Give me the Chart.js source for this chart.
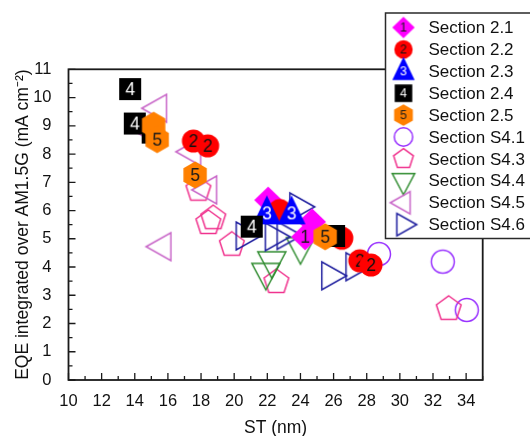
<!DOCTYPE html>
<html>
<head>
<meta charset="utf-8">
<script src="https://cdn.jsdelivr.net/npm/chart.js@4.4.1/dist/chart.umd.min.js"></script>
<style>
  html, body { margin: 0; padding: 0; background: #fff; }
  #wrap { width: 530px; height: 436px; position: relative; }
</style>
</head>
<body>
<div id="wrap"><canvas id="c" width="530" height="436"></canvas></div>
<script>
const FONT = "'Liberation Sans', Arial, Helvetica, sans-serif";

// Section 2.1
const sec21X = [22.05, 24.7, 24.28];
const sec21Y = [6.37, 5.6, 5.07];
const sec21Num = [0, 0, 1];
// Section 2.2
const sec22X = [17.54, 18.4, 22.75, 26.5, 27.58, 28.26];
const sec22Y = [8.46, 8.29, 6.0, 5.02, 4.22, 4.07];
const sec22Num = [1, 1, 0, 0, 1, 1];
// Section 2.3
const sec23X = [21.97, 23.46];
const sec23Y = [5.9, 5.9];
const sec23Num = [1, 1];
// Section 2.4
const sec24X = [13.72, 14.0, 15.08, 21.06, 26.03];
const sec24Y = [10.3, 9.08, 8.76, 5.43, 5.1];
const sec24Num = [1, 1, 0, 1, 0];
// Section 2.5
const sec25X = [15.14, 15.35, 17.64, 25.49];
const sec25Y = [9.02, 8.51, 7.26, 5.07];
const sec25Num = [0, 1, 1, 1];
// Section S4.1
const s41X = [28.74, 32.59, 34.04];
const s41Y = [4.46, 4.19, 2.48];
// Section S4.3
const s43X = [17.84, 18.74, 18.44, 19.86, 22.55, 32.95];
const s43Y = [6.74, 5.73, 5.56, 4.79, 3.47, 2.52];
// Section S4.4
const s44X = [21.91, 22.27, 24.0];
const s44Y = [3.81, 4.22, 4.72];
// Section S4.5
const s45X = [15.42, 14.62, 17.48, 18.44, 15.68];
const s45Y = [9.62, 8.92, 8.08, 6.73, 4.72];
// Section S4.6
const s46X = [20.62, 22.38, 23.09, 23.86, 25.79, 27.25];
const s46Y = [5.1, 5.07, 5.12, 6.13, 3.69, 4.01];

const seriesNames = ['Section 2.1', 'Section 2.2', 'Section 2.3', 'Section 2.4', 'Section 2.5',
  'Section S4.1', 'Section S4.3', 'Section S4.4', 'Section S4.5', 'Section S4.6'];

const xRange = [10, 35];
const yRange = [0, 11];
const xStep = 2;
const yStep = 1;

// marker look for each section (number drawn inside the filled ones)
const SERIES = [
  { x: sec21X, y: sec21Y, num: sec21Num, shape: 'diamond',  color: '#FF00FF', filled: true,  text: '1', textColor: '#1a1a1a', order: 5 },
  { x: sec22X, y: sec22Y, num: sec22Num, shape: 'circle',   color: '#FF0000', filled: true,  text: '2', textColor: '#111111', order: 4 },
  { x: sec23X, y: sec23Y, num: sec23Num, shape: 'triUp',    color: '#0000FF', filled: true,  text: '3', textColor: '#FFFFFF', order: 3 },
  { x: sec24X, y: sec24Y, num: sec24Num, shape: 'square',   color: '#000000', filled: true,  text: '4', textColor: '#FFFFFF', order: 2 },
  { x: sec25X, y: sec25Y, num: sec25Num, shape: 'hexagon',  color: '#FF8000', filled: true,  text: '5', textColor: '#1a1a1a', order: 1 },
  { x: s41X, y: s41Y, shape: 'circle',   color: '#9933FF', filled: false, order: 10 },
  { x: s43X, y: s43Y, shape: 'pentagon', color: '#F0338E', filled: false, order: 9 },
  { x: s44X, y: s44Y, shape: 'triDown',  color: '#2E8B2E', filled: false, order: 8 },
  { x: s45X, y: s45Y, shape: 'triLeft',  color: '#C866C8', filled: false, order: 7 },
  { x: s46X, y: s46Y, shape: 'triRight', color: '#1E1E9E', filled: false, order: 6 }
];

function polygon(ctx, n, R, s) {
  for (let i = 0; i < n; i++) {
    const a = -Math.PI / 2 + i * 2 * Math.PI / n;
    const px = Math.cos(a) * R * s, py = Math.sin(a) * R * s;
    if (i === 0) ctx.moveTo(px, py); else ctx.lineTo(px, py);
  }
}

function shapePath(ctx, shape, s) {
  ctx.beginPath();
  switch (shape) {
    case 'diamond':
      ctx.moveTo(0, -13.5 * s); ctx.lineTo(14 * s, 0); ctx.lineTo(0, 13.5 * s); ctx.lineTo(-14 * s, 0); break;
    case 'circle':
      ctx.arc(0, 0, 11.5 * s, 0, Math.PI * 2); break;
    case 'triUp':
      ctx.moveTo(0, -18 * s); ctx.lineTo(14 * s, 11 * s); ctx.lineTo(-14 * s, 11 * s); break;
    case 'square':
      ctx.rect(-11 * s, -11 * s, 22 * s, 22 * s); break;
    case 'hexagon':
      polygon(ctx, 6, 13.5, s); break;
    case 'pentagon':
      polygon(ctx, 5, 13, s); break;
    case 'triDown':
      ctx.moveTo(0, 17.5 * s); ctx.lineTo(14 * s, -9 * s); ctx.lineTo(-14 * s, -9 * s); break;
    case 'triLeft':
      ctx.moveTo(-16.5 * s, 0); ctx.lineTo(8.3 * s, -14 * s); ctx.lineTo(8.3 * s, 14 * s); break;
    case 'triRight':
      ctx.moveTo(16.5 * s, 0); ctx.lineTo(-8.3 * s, -14 * s); ctx.lineTo(-8.3 * s, 14 * s); break;
  }
  ctx.closePath();
}

function makeMarker(ser, s, withNum, fontPx) {
  const size = 40;
  const cv = document.createElement('canvas');
  cv.width = size; cv.height = size;
  const ctx = cv.getContext('2d');
  ctx.translate(size / 2, size / 2);
  shapePath(ctx, ser.shape, s);
  if (ser.filled) {
    ctx.fillStyle = ser.color; ctx.fill();
  } else {
    ctx.strokeStyle = ser.color; ctx.lineWidth = 1.5; ctx.lineJoin = 'miter'; ctx.stroke();
  }
  if (withNum && ser.text) {
    ctx.fillStyle = ser.textColor;
    ctx.font = fontPx + 'px ' + FONT;
    ctx.textAlign = 'center';
    ctx.textBaseline = 'middle';
    ctx.fillText(ser.text, 0, 1);
  }
  return cv;
}

const datasets = SERIES.map((ser, i) => {
  const plain = makeMarker(ser, 1, false, 17.5);
  const numbered = makeMarker(ser, 1, true, 17.5);
  return {
    label: seriesNames[i],
    data: ser.x.map((v, j) => ({ x: v, y: ser.y[j] })),
    pointStyle: ser.x.map((v, j) => (ser.num && ser.num[j]) ? numbered : plain),
    legendMark: makeMarker(ser, 0.8, true, 12.5),
    pointRadius: 12,
    pointHoverRadius: 12,
    showLine: false,
    order: ser.order
  };
});

// frame of the plot area with inward major and minor ticks
const frameTicks = {
  id: 'frameTicks',
  beforeDatasetsDraw(chart) {
    const { ctx, chartArea: a } = chart;
    const xs = chart.scales.x, ys = chart.scales.y;
    ctx.save();
    ctx.strokeStyle = '#1a1a1a';
    ctx.lineWidth = 1.3;
    ctx.beginPath();
    for (let v = xs.min; v <= xs.max + 1e-9; v += xStep / 2) {
      const px = xs.getPixelForValue(v);
      const major = Math.abs((v - xs.min) % xStep) < 1e-9;
      ctx.moveTo(px, a.bottom); ctx.lineTo(px, a.bottom - (major ? 7 : 4));
    }
    for (let v = ys.min; v <= ys.max + 1e-9; v += yStep / 2) {
      const py = ys.getPixelForValue(v);
      const major = Math.abs((v - ys.min) % yStep) < 1e-9;
      ctx.moveTo(a.left, py); ctx.lineTo(a.left + (major ? 7 : 4), py);
    }
    ctx.stroke();
    ctx.lineWidth = 1.8;
    ctx.strokeRect(a.left, a.top, a.right - a.left, a.bottom - a.top);
    ctx.restore();
  }
};

// boxed legend over the upper right corner
const boxLegend = {
  id: 'boxLegend',
  afterDraw(chart) {
    const { ctx } = chart;
    const bx = 385.5, by = 13, bw = 170, bh = 225.5;
    ctx.save();
    ctx.fillStyle = '#ffffff';
    ctx.fillRect(bx, by, bw, bh);
    ctx.strokeStyle = '#2a2a2a';
    ctx.lineWidth = 1.5;
    ctx.strokeRect(bx, by, bw, bh);
    ctx.font = '17px ' + FONT;
    ctx.textBaseline = 'middle';
    ctx.textAlign = 'left';
    ctx.fillStyle = '#111111';
    chart.data.datasets.forEach((ds, i) => {
      const cy = 27.5 + i * 21.9;
      const m = ds.legendMark;
      ctx.drawImage(m, 403.5 - m.width / 2, cy - m.height / 2);
      ctx.fillText(ds.label, 428.5, cy + 1);
    });
    ctx.restore();
  }
};

new Chart(document.getElementById('c'), {
  type: 'scatter',
  data: { datasets },
  options: {
    responsive: false,
    animation: false,
    events: [],
    layout: { padding: { left: 0, top: 69.3, right: 47.3, bottom: 0 } },
    plugins: { legend: { display: false }, tooltip: { enabled: false } },
    scales: {
      x: {
        type: 'linear', min: xRange[0], max: xRange[1],
        grid: { display: false }, border: { display: false },
        ticks: { stepSize: xStep, includeBounds: false, autoSkip: false, maxRotation: 0,
                 font: { family: FONT, size: 16.5 }, color: '#111111', padding: 4 },
        title: { display: true, text: 'ST (nm)', color: '#111111',
                 font: { family: FONT, size: 17.5 }, padding: { top: 0, bottom: -2.5 } },
        afterFit(scale) { scale.height = 56; }
      },
      y: {
        type: 'linear', min: yRange[0], max: yRange[1],
        grid: { display: false }, border: { display: false },
        ticks: { stepSize: yStep, autoSkip: false,
                 font: { family: FONT, size: 16.5 }, color: '#111111', padding: 9 },
        title: { display: true, text: 'EQE integrated over AM1.5G (mA cm\u207B\u00B2)', color: '#111111',
                 font: { family: FONT, size: 17.5 }, padding: { top: 12.25, bottom: 0 } },
        afterFit(scale) { scale.width = 68.5; }
      }
    }
  },
  plugins: [frameTicks, boxLegend]
});
</script>
</body>
</html>
